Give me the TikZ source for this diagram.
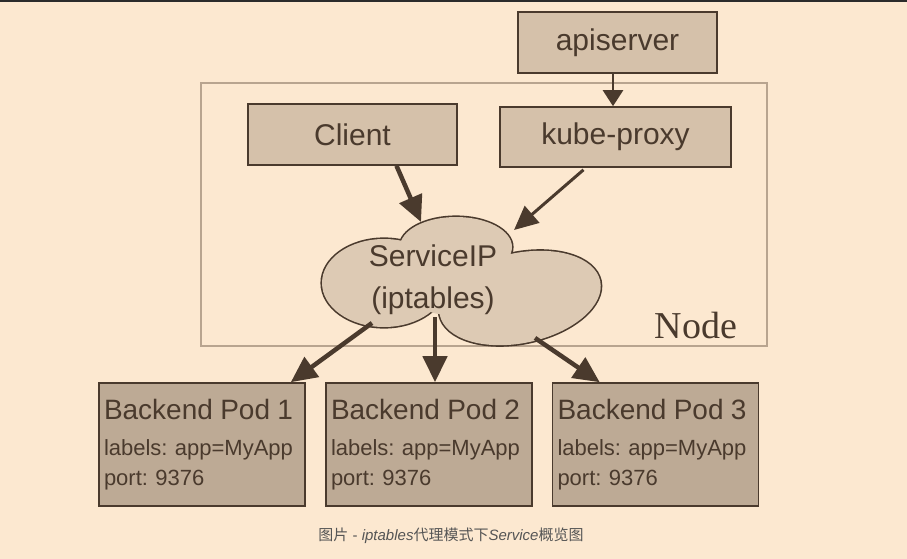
\documentclass[tikz,border=0pt]{standalone}
\usepackage{fontspec}
\setmainfont{Liberation Sans}
\newfontfamily\nodefont{Liberation Serif}
\newfontfamily\cjkfont{Noto Sans CJK SC}
\usepackage{tikz}
\usetikzlibrary{arrows.meta, positioning, calc}
\definecolor{bgpeach}{HTML}{FCE8D0}
\definecolor{boxfill}{HTML}{D5C1AA}
\definecolor{podfill}{HTML}{BDAA95}
\definecolor{cloudfill}{HTML}{DDCAB4}
\definecolor{brownline}{HTML}{4A3A2D}
\definecolor{framebrown}{HTML}{B8A48F}
\definecolor{captiongray}{HTML}{555555}
\definecolor{topbar}{HTML}{2B2B2B}

% lobes of the ServiceIP cloud: x/y/x radius/y radius/rotation
\def\cloudlobes{384/283/62/44/0, 456/247/56/30/0, 520/298/82/45/12}

\begin{document}
\frenchspacing
\begin{tikzpicture}[
        x=1pt, y=-1pt,
        % boxes
        box/.style={draw=brownline, fill=boxfill, line width=1.6pt, text=brownline,
            font=\fontsize{30}{32}\selectfont, inner sep=0pt},
        pod/.style={draw=brownline, fill=podfill, line width=1.6pt, text=brownline,
            minimum width=206pt, minimum height=123pt, text width=196pt,
            align=left, inner sep=0pt, font=\fontsize{22}{30}\selectfont},
        % connectors
        thin arrow/.style={draw=brownline, line width=2.5pt,
            -{Triangle[length=16pt, width=20pt]}},
        mid arrow/.style={draw=brownline, line width=3pt,
            -{Triangle[length=24pt, width=22pt]}},
        fat arrow/.style={draw=brownline, line width=4.5pt,
            -{Triangle[length=26pt, width=24pt]}}
    ]
    \fill[bgpeach] (0,0) rectangle (907,559);
    \useasboundingbox (0,0) rectangle (907,559);
    \fill[topbar] (0,0) rectangle (907,2.5);

    % the node frame
    \draw[framebrown, line width=1.2pt] (201,83) rectangle (767,346);
    \node[text=brownline, font=\nodefont\fontsize{38}{40}\selectfont] (nodelabel) at (696,325) {Node};

    \node[box, minimum width=199pt, minimum height=61pt] (apiserver) at (617.5,42.5) {apiserver};
    \node[box, minimum width=209pt, minimum height=61pt] (client) at (352.5,134.5) {Client};
    \node[box, minimum width=231pt, minimum height=60pt] (kubeproxy) at (615.5,137) {kube-proxy};

    % cloud: outlines first, then the fill hides the inner lines
    \foreach \cx/\cy/\rx/\ry/\rot in \cloudlobes
        \draw[brownline, line width=3.2pt] (\cx,\cy) ellipse [x radius=\rx pt, y radius=\ry pt, rotate=\rot];
    \foreach \cx/\cy/\rx/\ry/\rot in \cloudlobes
        \fill[cloudfill] (\cx,\cy) ellipse [x radius=\rx pt, y radius=\ry pt, rotate=\rot];
    \fill[cloudfill] (450,285) ellipse [x radius=45pt, y radius=30pt];
    \coordinate (cloud) at (461,279);
    \node[text=brownline, align=center, font=\fontsize{30}{42}\selectfont] (serviceip) at (433,280) {ServiceIP\\(iptables)};

    \node[pod] (pod1) at (202,444.5) {{\fontsize{28}{34}\selectfont Backend Pod 1}\\[6pt]labels: app=MyApp\\port: 9376};
    \node[pod] (pod2) at (429,444.5) {{\fontsize{28}{34}\selectfont Backend Pod 2}\\[6pt]labels: app=MyApp\\port: 9376};
    \node[pod] (pod3) at (655.5,444.5) {{\fontsize{28}{34}\selectfont Backend Pod 3}\\[6pt]labels: app=MyApp\\port: 9376};

    \coordinate (apiout) at ($(apiserver.south)+(-4.5,0)$);
    \draw[thin arrow] (apiout) -- (apiout |- kubeproxy.north);
    \draw[fat arrow] ($(client.south)+(44,0)$) -- ($(cloud)+(-40,-57)$);
    \draw[mid arrow] ($(kubeproxy.south)+(-32,2)$) -- ($(cloud)+(53,-49)$);
    \draw[fat arrow] ($(cloud)+(-89,44)$) -- ($(pod1.north east)+(-15,0)$);
    \draw[fat arrow] ($(cloud)+(-26,38)$) -- ($(pod2.north)+(6,0)$);
    \draw[fat arrow] ($(cloud)+(74,59)$) -- ($(pod3.north west)+(48,0)$);

    \node[text=captiongray, font=\fontsize{15}{18}\selectfont] (caption) at (451,536)
        {{\cjkfont 图片} - \textit{iptables}{\cjkfont 代理模式下}\textit{Service}{\cjkfont 概览图}};
\end{tikzpicture}
\end{document}
